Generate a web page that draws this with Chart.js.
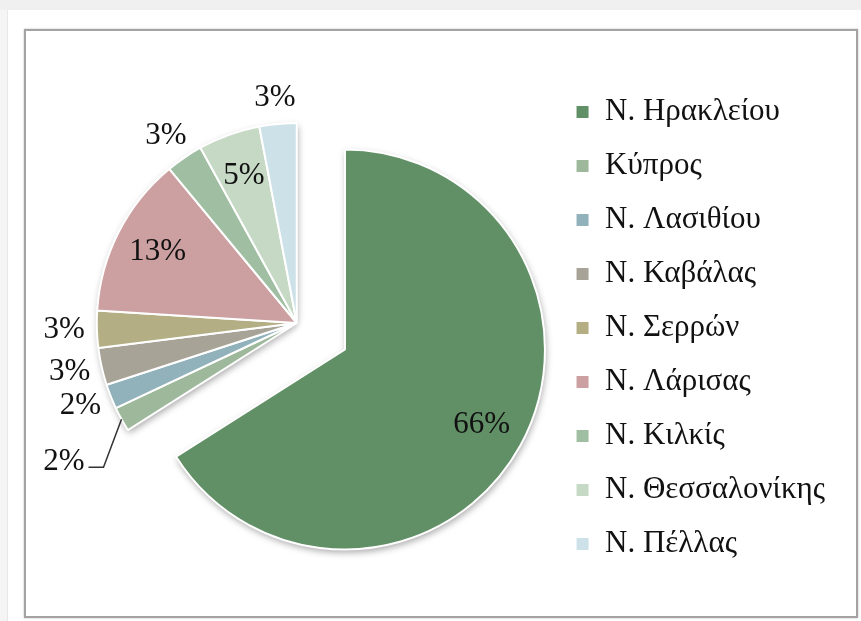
<!DOCTYPE html>
<html lang="el">
<head>
<meta charset="utf-8">
<title>Κατανομή ανά νομό</title>
<script src="https://cdn.jsdelivr.net/npm/chart.js@4.4.1/dist/chart.umd.min.js"></script>
<style>
  html, body { margin: 0; padding: 0; background: #fff; }
  body { width: 861px; height: 621px; position: relative; overflow: hidden; }
  .top-band { position: absolute; left: 0; top: 0; width: 861px; height: 10px; background: #f0f0f0; }
  .left-band { position: absolute; left: 0; top: 10px; width: 7px; height: 611px; background: #f5f5f5; border-right: 1px solid #e8e8e8; }
  .frame { position: absolute; left: 24px; top: 29px; width: 834px; height: 589px; box-sizing: border-box;
           border: 2px solid #a3a3a3; background: #fff; box-shadow: 0 0 2px rgba(0, 0, 0, 0.25); }
  canvas { display: block; }
</style>
</head>
<body>
<div class="top-band"></div>
<div class="left-band"></div>
<div class="frame"><canvas id="chart_nomoi" width="830" height="585"></canvas></div>
<script>
const regions = [
  "Ν. Ηρακλείου",
  "Κύπρος",
  "Ν. Λασιθίου",
  "Ν. Καβάλας",
  "Ν. Σερρών",
  "Ν. Λάρισας",
  "Ν. Κιλκίς",
  "Ν. Θεσσαλονίκης",
  "Ν. Πέλλας",
];
const shares = [66, 2, 2, 3, 3, 13, 3, 5, 3];
const sliceColors = [
  "#629066",
  "#9db89b",
  "#91b1bb",
  "#a7a497",
  "#b4ae84",
  "#cc9fa0",
  "#a0bfa2",
  "#c6d9c5",
  "#cde1e8",
];

const serif = "'Liberation Serif', 'Times New Roman', serif";

// pull the first slice out of the pie, keeping its radius
const explodeSlice = {
  id: "explodeSlice",
  afterDatasetUpdate(chart, args, opts) {
    const arc = args.meta.data[opts.index];
    if (!arc) return;
    const mid = (arc.startAngle + arc.endAngle) / 2;
    arc.x += Math.cos(mid) * opts.distance;
    arc.y += Math.sin(mid) * opts.distance;
  },
};

// soft shadow under the slices
const pieShadow = {
  id: "pieShadow",
  beforeDatasetsDraw(chart) {
    const { ctx } = chart;
    const meta = chart.getDatasetMeta(0);
    ctx.save();
    ctx.shadowColor = "rgba(0, 0, 0, 0.35)";
    ctx.shadowBlur = 7;
    ctx.shadowOffsetX = 1;
    ctx.shadowOffsetY = 3;
    ctx.fillStyle = "#fff";
    meta.data.forEach((arc) => {
      ctx.beginPath();
      ctx.moveTo(arc.x, arc.y);
      ctx.arc(arc.x, arc.y, arc.outerRadius, arc.startAngle, arc.endAngle);
      ctx.closePath();
      ctx.fill();
    });
    ctx.restore();
  },
};

// percentage labels
const pieLabels = {
  id: "pieLabels",
  afterDatasetsDraw(chart, args, opts) {
    const { ctx } = chart;
    const meta = chart.getDatasetMeta(0);
    ctx.save();
    ctx.font = `${opts.size}px ${serif}`;
    ctx.fillStyle = "#111";
    ctx.textBaseline = "middle";
    meta.data.forEach((arc, i) => {
      const value = shares[i];
      const text = value + "%";
      const mid = (arc.startAngle + arc.endAngle) / 2;
      const cos = Math.cos(mid);
      const sin = Math.sin(mid);
      const r = arc.outerRadius;

      if (value >= opts.insideMin) {
        ctx.textAlign = "center";
        ctx.fillText(text, arc.x + cos * r * opts.inside, arc.y + sin * r * opts.inside);
        return;
      }

      if (i === opts.leader.index) {
        const ex = arc.x + cos * r;
        const ey = arc.y + sin * r;
        const kx = ex + opts.leader.dx;
        const ky = ey + opts.leader.dy;
        const lx = kx - opts.leader.tail;
        ctx.strokeStyle = "#333";
        ctx.lineWidth = 1.5;
        ctx.beginPath();
        ctx.moveTo(ex, ey);
        ctx.lineTo(kx, ky);
        ctx.lineTo(lx, ky);
        ctx.stroke();
        ctx.textAlign = "right";
        ctx.fillText(text, lx - 4, ky - 5);
        return;
      }

      const w = ctx.measureText(text).width;
      const h = opts.size * 0.9;
      const a = r + opts.gap;
      ctx.textAlign = "center";
      ctx.fillText(text, arc.x + cos * a + cos * w / 2, arc.y + sin * a + sin * h / 2);
    });
    ctx.restore();
  },
};

const chart_nomoi = new Chart(document.getElementById("chart_nomoi"), {
  type: "pie",
  data: {
    labels: regions,
    datasets: [
      {
        data: shares,
        backgroundColor: sliceColors,
        borderColor: "#ffffff",
        borderWidth: 2,
      },
    ],
  },
  options: {
    responsive: false,
    animation: false,
    events: [],
    radius: 200,
    layout: {
      padding: { left: 15, right: 21, top: 0, bottom: 1 },
    },
    plugins: {
      tooltip: { enabled: false },
      legend: {
        position: "right",
        title: { display: true, text: "", padding: 0, font: { size: 10, lineHeight: 1 } },
        labels: {
          color: "#111",
          font: { family: serif, size: 31 },
          boxWidth: 14,
          boxHeight: 14,
          padding: 23,
        },
      },
      explodeSlice: { index: 0, distance: 55 },
      pieLabels: {
        size: 31,
        insideMin: 5,
        inside: 0.78,
        gap: 12,
        leader: { index: 1, dx: -18, dy: 48, tail: 15 },
      },
    },
  },
  plugins: [explodeSlice, pieShadow, pieLabels],
});
</script>
</body>
</html>
